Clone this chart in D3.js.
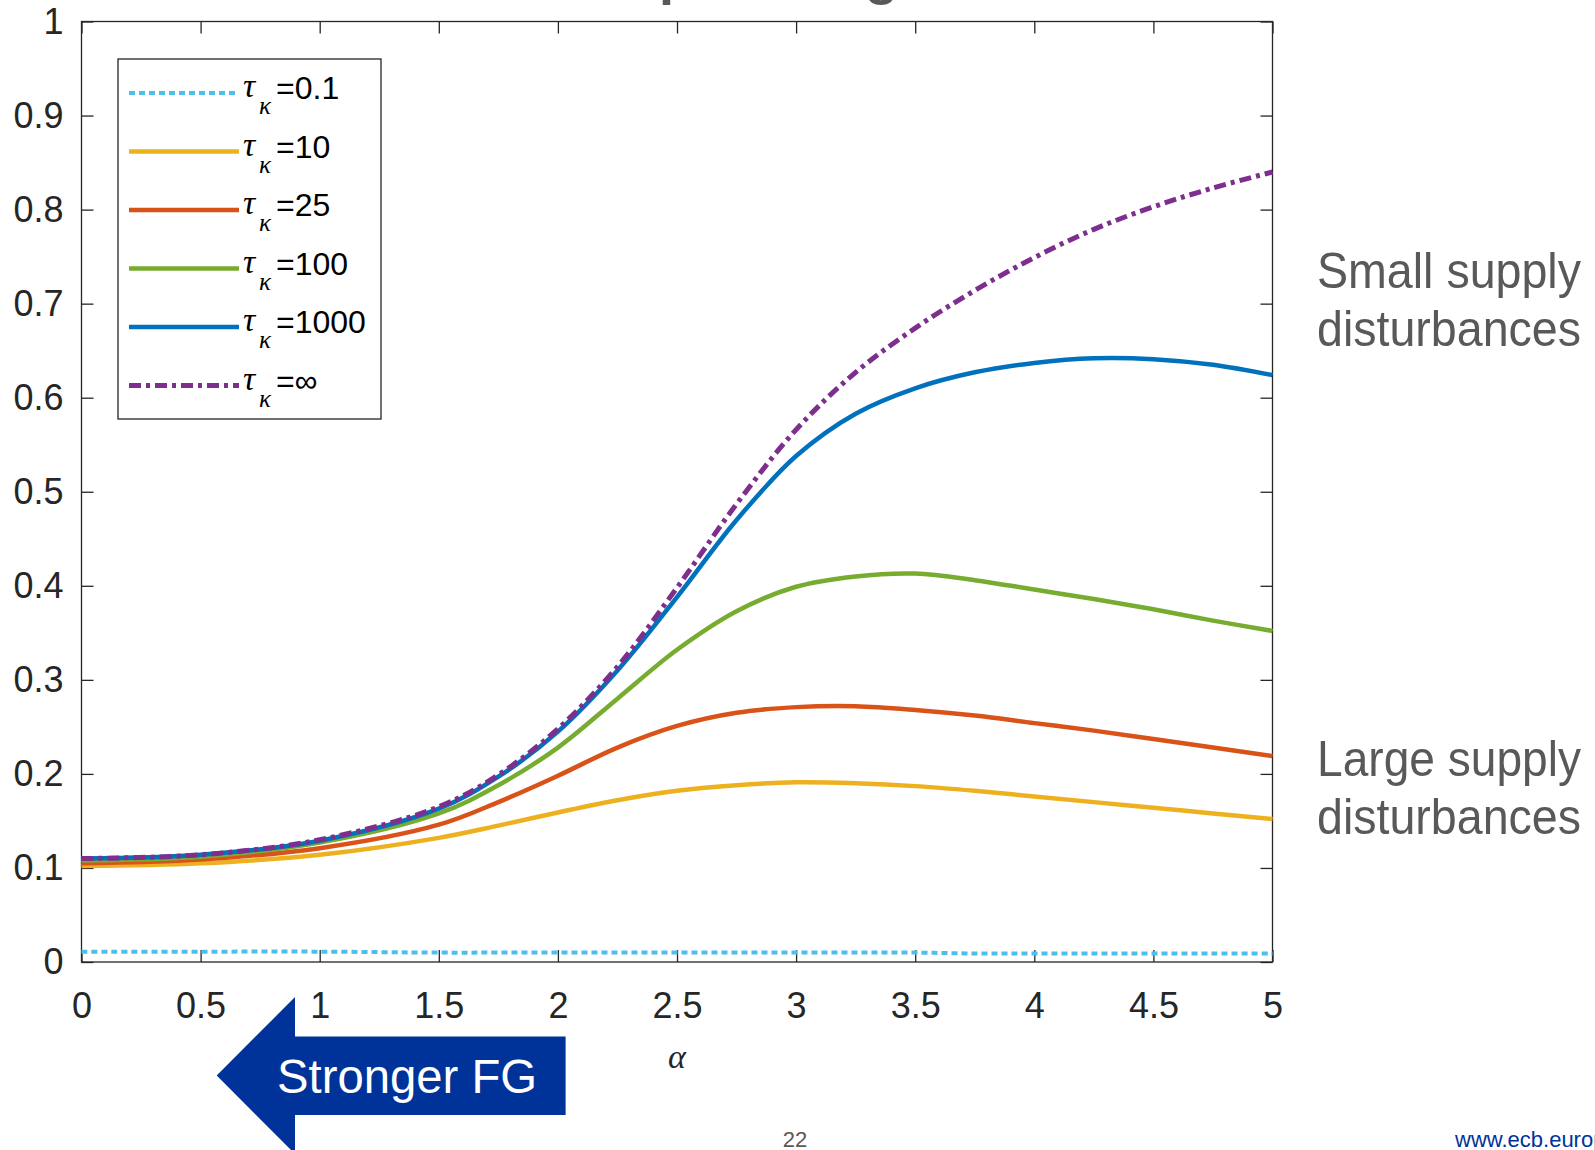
<!DOCTYPE html>
<html>
<head>
<meta charset="utf-8">
<script src="https://cdn.jsdelivr.net/npm/d3@7"></script>
<style>
  html, body { margin: 0; padding: 0; background: #fff; overflow: hidden; }
  svg { display: block; }
  text { font-family: "Liberation Sans", Arial, Helvetica, sans-serif; }
  .greek { font-family: "Liberation Serif", "DejaVu Serif", serif; font-style: italic; }
</style>
</head>
<body>
<div id="chart"></div>
<script>
// values
const ALPHA    = [0, 0.5, 1, 1.5, 1.75, 2, 2.25, 2.5, 2.75, 3, 3.25, 3.5, 3.75, 4, 4.25, 4.5, 4.75, 5];
const TAU_01   = [0.011, 0.011, 0.011, 0.010, 0.010, 0.010, 0.010, 0.010, 0.010, 0.010, 0.010, 0.010, 0.009, 0.009, 0.009, 0.009, 0.009, 0.009];
const TAU_10   = [0.102, 0.105, 0.114, 0.132, 0.145, 0.159, 0.172, 0.182, 0.188, 0.191, 0.190, 0.187, 0.182, 0.176, 0.170, 0.164, 0.158, 0.152];
const TAU_25   = [0.105, 0.109, 0.121, 0.146, 0.170, 0.198, 0.228, 0.251, 0.265, 0.271, 0.272, 0.268, 0.262, 0.254, 0.246, 0.237, 0.228, 0.219];
const TAU_100  = [0.108, 0.112, 0.127, 0.158, 0.188, 0.228, 0.280, 0.332, 0.373, 0.399, 0.410, 0.413, 0.406, 0.396, 0.386, 0.375, 0.363, 0.352];
const TAU_1000 = [0.110, 0.114, 0.129, 0.163, 0.197, 0.245, 0.310, 0.388, 0.470, 0.538, 0.583, 0.610, 0.627, 0.637, 0.642, 0.641, 0.635, 0.624];
const TAU_INF  = [0.110, 0.114, 0.130, 0.165, 0.199, 0.248, 0.314, 0.398, 0.487, 0.566, 0.627, 0.674, 0.714, 0.749, 0.779, 0.803, 0.823, 0.840];

const LEGEND_LABELS = ['0.1', '10', '25', '100', '1000', '\u221E'];
const X_TICKS = [0, 0.5, 1, 1.5, 2, 2.5, 3, 3.5, 4, 4.5, 5];
const Y_TICKS = [0, 0.1, 0.2, 0.3, 0.4, 0.5, 0.6, 0.7, 0.8, 0.9, 1];

const W = 1595, H = 1150;
const PLOT = { left: 81.5, right: 1272.5, top: 21.5, bottom: 962 };
const TICK = 12;
const AXIS_COLOR = '#262626';

const series = [
  { values: TAU_01,   color: '#4DBEEE', width: 4,   dash: '6,4' },
  { values: TAU_10,   color: '#EDB120', width: 4.5, dash: null },
  { values: TAU_25,   color: '#D95319', width: 4.5, dash: null },
  { values: TAU_100,  color: '#77AC30', width: 4.5, dash: null },
  { values: TAU_1000, color: '#0072BD', width: 4.5, dash: null },
  { values: TAU_INF,  color: '#7E2F8E', width: 5,   dash: '12,5,4,5' }
].map((s, i) => ({ ...s, label: LEGEND_LABELS[i] }));

const svg = d3.select('#chart').append('svg')
  .attr('width', W)
  .attr('height', H);

const x = d3.scaleLinear().domain([0, 5]).range([PLOT.left, PLOT.right]);
const y = d3.scaleLinear().domain([0, 1]).range([PLOT.bottom, PLOT.top]);

// cut-off title remnants at the very top of the slide
svg.append('g')
  .attr('fill', '#595959')
  .attr('font-weight', 'bold')
  .attr('font-size', 54)
  .selectAll('text')
  .data([{ t: 'p', x: 659 }, { t: 'g', x: 865 }])
  .join('text')
    .attr('x', d => d.x)
    .attr('y', -6)
    .text(d => d.t);

// Axes (MATLAB-style box with inward ticks on all sides)
function styleAxis(ax) {
  ax.select('.domain').remove();
  ax.selectAll('.tick line').attr('stroke', AXIS_COLOR).attr('stroke-width', 1.3);
  ax.selectAll('.tick text')
    .attr('fill', AXIS_COLOR)
    .attr('font-size', 36)
    .attr('font-family', '"Liberation Sans", Arial, sans-serif');
}

svg.append('g')
  .attr('transform', `translate(0,${PLOT.bottom})`)
  .call(d3.axisBottom(x).tickValues(X_TICKS).tickSizeInner(-TICK).tickSizeOuter(0)
    .tickPadding(30).tickFormat(d => String(d)))
  .call(styleAxis);

svg.append('g')
  .attr('transform', `translate(0,${PLOT.top})`)
  .call(d3.axisTop(x).tickValues(X_TICKS).tickSizeInner(-TICK).tickSizeOuter(0).tickFormat(''))
  .call(styleAxis);

svg.append('g')
  .attr('transform', `translate(${PLOT.left},0)`)
  .call(d3.axisLeft(y).tickValues(Y_TICKS).tickSizeInner(-TICK).tickSizeOuter(0)
    .tickPadding(18).tickFormat(d => String(d)))
  .call(styleAxis);

svg.append('g')
  .attr('transform', `translate(${PLOT.right},0)`)
  .call(d3.axisRight(y).tickValues(Y_TICKS).tickSizeInner(-TICK).tickSizeOuter(0).tickFormat(''))
  .call(styleAxis);

svg.append('rect')
  .attr('x', PLOT.left).attr('y', PLOT.top)
  .attr('width', PLOT.right - PLOT.left)
  .attr('height', PLOT.bottom - PLOT.top)
  .attr('fill', 'none')
  .attr('stroke', AXIS_COLOR)
  .attr('stroke-width', 1.3);

// x-axis label
svg.append('text')
  .attr('class', 'greek')
  .attr('x', x(2.5))
  .attr('y', 1068)
  .attr('text-anchor', 'middle')
  .attr('font-size', 34)
  .attr('fill', AXIS_COLOR)
  .text('\u03B1');

// Lines
const line = d3.line()
  .x((d, i) => x(ALPHA[i]))
  .y(d => y(d))
  .curve(d3.curveCatmullRom.alpha(0.5));

svg.append('g')
  .selectAll('path')
  .data(series)
  .join('path')
    .attr('d', d => line(d.values))
    .attr('fill', 'none')
    .attr('stroke', d => d.color)
    .attr('stroke-width', d => d.width)
    .attr('stroke-dasharray', d => d.dash)
    .attr('stroke-linejoin', 'round');

// Legend
const LEG = { x: 118, y: 59, w: 263, h: 360, row0: 93, step: 58.5 };
const legend = svg.append('g');
legend.append('rect')
  .attr('x', LEG.x).attr('y', LEG.y)
  .attr('width', LEG.w).attr('height', LEG.h)
  .attr('fill', '#fff')
  .attr('stroke', AXIS_COLOR)
  .attr('stroke-width', 1.3);

const item = legend.selectAll('.legend-item')
  .data(series)
  .join('g')
    .attr('class', 'legend-item')
    .attr('transform', (d, i) => `translate(0,${LEG.row0 + i * LEG.step})`);

item.append('line')
  .attr('x1', 129).attr('x2', 239)
  .attr('stroke', d => d.color)
  .attr('stroke-width', d => d.width)
  .attr('stroke-dasharray', d => d.dash);

item.append('text')
  .attr('class', 'greek')
  .attr('x', 243).attr('y', 4)
  .attr('font-size', 34)
  .attr('fill', '#000')
  .text('\u03C4');

item.append('text')
  .attr('class', 'greek')
  .attr('x', 259).attr('y', 21)
  .attr('font-size', 25)
  .attr('fill', '#000')
  .text('\u03BA');

item.append('text')
  .attr('x', 276).attr('y', 6)
  .attr('font-size', 32)
  .attr('fill', '#000')
  .text(d => '=' + d.label);

// Right-hand annotations
const notes = [
  { lines: ['Small supply', 'disturbances'], y: 288 },
  { lines: ['Large supply', 'disturbances'], y: 776 }
];
svg.append('g')
  .selectAll('text')
  .data(notes.flatMap(n => n.lines.map((t, i) => ({ t, y: n.y + i * 58 }))))
  .join('text')
    .attr('x', 1317)
    .attr('y', d => d.y)
    .attr('font-size', 50)
    .attr('textLength', 264)
    .attr('lengthAdjust', 'spacingAndGlyphs')
    .attr('fill', '#595959')
    .text(d => d.t);

// "Stronger FG" arrow
const ARROW = [[216.7, 1075.5], [295, 997], [295, 1036.5], [565.6, 1036.5],
               [565.6, 1115], [295, 1115], [295, 1154]];
svg.append('polygon')
  .attr('points', ARROW.map(p => p.join(',')).join(' '))
  .attr('fill', '#003399');

svg.append('text')
  .attr('x', 407).attr('y', 1093)
  .attr('text-anchor', 'middle')
  .attr('font-size', 48)
  .attr('textLength', 260)
  .attr('lengthAdjust', 'spacingAndGlyphs')
  .attr('fill', '#fff')
  .text('Stronger FG');

// Slide footer
svg.append('text')
  .attr('x', 795).attr('y', 1147)
  .attr('text-anchor', 'middle')
  .attr('font-size', 22)
  .attr('fill', '#595959')
  .text('22');

svg.append('text')
  .attr('x', 1455).attr('y', 1147)
  .attr('font-size', 22)
  .attr('fill', '#003399')
  .text('www.ecb.europa.eu');
</script>
</body>
</html>
